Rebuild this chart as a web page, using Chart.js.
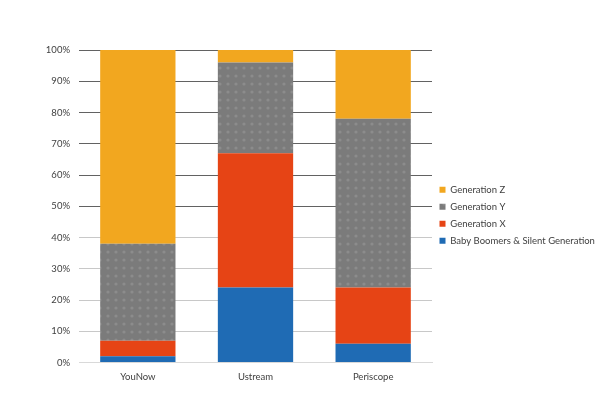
<!DOCTYPE html>
<html>
<head>
<meta charset="utf-8">
<script src="https://cdn.jsdelivr.net/npm/chart.js@4"></script>
<style>
  html, body { margin: 0; padding: 0; background: #fff; }
  #wrap { width: 600px; height: 397px; }
</style>
</head>
<body>
<div id="wrap"><canvas id="chartId" width="600" height="397"></canvas></div>
<script>
const categories = ['YouNow', 'Ustream', 'Periscope'];
const boomers = [2, 24, 6];
const genX = [5, 43, 18];
const genY = [31, 29, 54];
const genZ = [62, 4, 22];
const yTicks = [0, 10, 20, 30, 40, 50, 60, 70, 80, 90, 100];

// dotted grey texture like the original fill
function dotPattern() {
  const c = document.createElement('canvas');
  c.width = 8; c.height = 8;
  const g = c.getContext('2d');
  g.fillStyle = '#7b7b7b';
  g.fillRect(0, 0, 8, 8);
  g.fillStyle = '#8c8c8c';
  g.beginPath();
  g.arc(4, 4, 1.6, 0, Math.PI * 2);
  g.fill();
  return g.createPattern(c, 'repeat');
}

const font = { family: 'Lato', size: 9.5 };

function drawChart() {
  var chrt = document.getElementById('chartId').getContext('2d');
  let chartConfig = {
    type: 'bar',
    data: {
      labels: categories,
      datasets: [
        { label: 'Baby Boomers & Silent Generation', data: boomers, backgroundColor: '#1f6bb4' },
        { label: 'Generation X', data: genX, backgroundColor: '#e64415' },
        { label: 'Generation Y', data: genY, backgroundColor: dotPattern() },
        { label: 'Generation Z', data: genZ, backgroundColor: '#f2a71f' }
      ]
    },
    options: {
      responsive: false,
      animation: false,
      categoryPercentage: 0.64,
      barPercentage: 1,
      layout: { padding: { left: 10, right: 0, top: 50, bottom: 5 } },
      plugins: {
        tooltip: { enabled: false },
        legend: {
          position: 'right',
          fullSize: false,
          reverse: true,
          maxWidth: 168,
          // blank title only pushes the items down a little
          title: { display: true, text: ' ', font: { size: 10 }, padding: { top: 6, bottom: 0 } },
          labels: {
            font: font,
            color: '#404040',
            boxWidth: 6,
            boxHeight: 6,
            padding: 7.5
          }
        }
      },
      scales: {
        x: {
          stacked: true,
          grid: { display: false, drawTicks: false },
          border: { color: '#d9d9d9' },
          ticks: { font: font, color: '#404040', padding: 9 }
        },
        y: {
          stacked: true,
          min: 0,
          max: 100,
          afterBuildTicks: function (scale) {
            scale.ticks = yTicks.map(v => ({ value: v }));
          },
          grid: {
            drawTicks: false,
            color: ctx => (ctx.tick && ctx.tick.value >= 50) ? '#626262' : '#c8c8c8'
          },
          border: { display: false },
          ticks: {
            font: font,
            color: '#404040',
            padding: 9,
            callback: v => v + '%'
          },
          afterFit: function (scale) { scale.width = 69; }
        }
      }
    }
  };
  window.barChart = new Chart(chrt, chartConfig);
}

document.fonts.load('9px Lato').then(drawChart, drawChart);
</script>
</body>
</html>
